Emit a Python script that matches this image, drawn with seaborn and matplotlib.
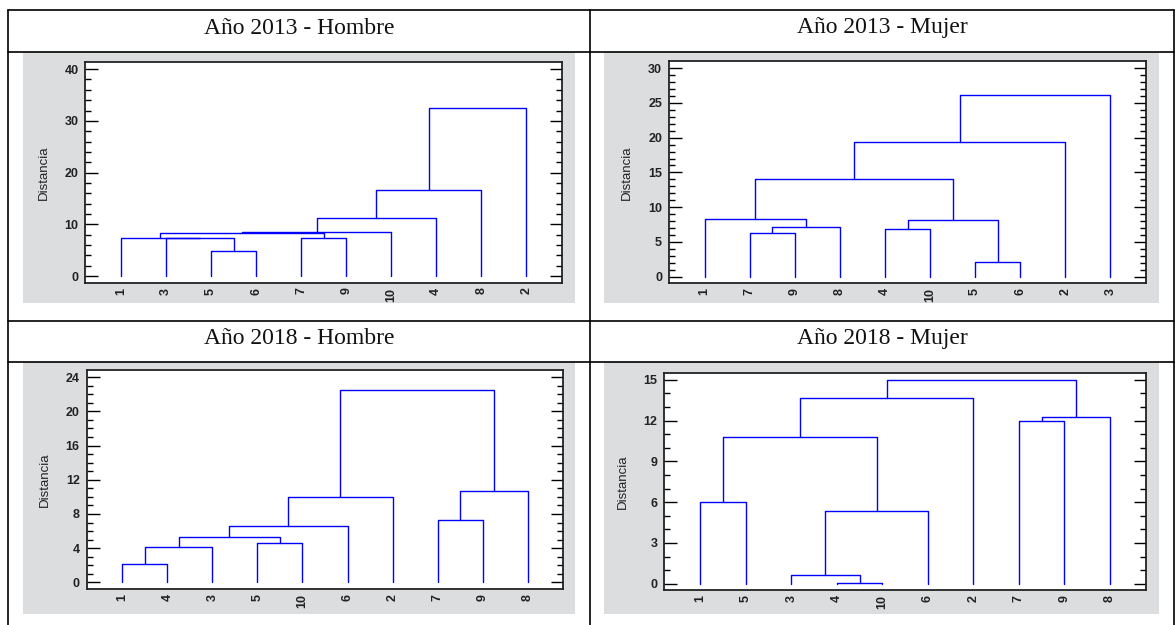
import matplotlib
matplotlib.use('Agg')
import matplotlib.pyplot as plt
from matplotlib.lines import Line2D
from matplotlib.patches import Rectangle
from matplotlib.ticker import MultipleLocator
import seaborn as sns
import pandas as pd

# ---------------- data ----------------
titulos = ["Año 2013 - Hombre", "Año 2013 - Mujer", "Año 2018 - Hombre", "Año 2018 - Mujer"]

# leaf order along the x axis
h13_orden = [1, 3, 5, 6, 7, 9, 10, 4, 8, 2]
m13_orden = [1, 7, 9, 8, 4, 10, 5, 6, 2, 3]
h18_orden = [1, 4, 3, 5, 10, 6, 2, 7, 9, 8]
m18_orden = [1, 5, 3, 4, 10, 6, 2, 7, 9, 8]

# merges: left member, right member (leaf label or 'nK' = K-th merge), distance
h13_izq = [5, 3, 1, 7, 'n2', 'n4', 'n5', 'n6', 'n7']
h13_der = [6, 'n0', 'n1', 9, 'n3', 10, 4, 8, 2]
h13_dist = [4.8, 7.3, 7.3, 7.3, 8.25, 8.6, 11.2, 16.6, 32.5]

m13_izq = [7, 'n0', 1, 5, 4, 'n4', 'n2', 'n6', 'n7']
m13_der = [9, 8, 'n1', 6, 10, 'n3', 'n5', 2, 3]
m13_dist = [6.25, 7.2, 8.3, 2.07, 6.9, 8.17, 14.0, 19.4, 26.15]

h18_izq = [1, 'n0', 5, 'n1', 'n3', 'n4', 7, 'n6', 'n5']
h18_der = [4, 3, 10, 'n2', 6, 2, 9, 8, 'n7']
h18_dist = [2.1, 4.16, 4.6, 5.33, 6.54, 10.0, 7.28, 10.74, 22.53]

m18_izq = [1, 4, 3, 'n2', 'n0', 'n4', 7, 'n6', 'n5']
m18_der = [5, 10, 'n1', 6, 'n3', 2, 9, 8, 'n7']
m18_dist = [6.02, 0.05, 0.64, 5.33, 10.79, 13.64, 11.94, 12.29, 14.98]

# y axis: top major tick, major step, minor step
ejes_y = [(40, 10, 2), (30, 5, 1), (24, 4, 1), (15, 3, 1)]

# ---------------- style ----------------
sns.set_style('white')
plt.rcParams['font.family'] = ['Liberation Sans', 'DejaVu Sans']

W, H = 1175, 625
fig = plt.figure(figsize=(W / 100, H / 100), dpi=100)


def fx(x):
    return x / W


def fy(y):
    return 1 - y / H


def segmentos(orden, izq, der, dist):
    pos = {hoja: i + 1 for i, hoja in enumerate(orden)}
    alt = {hoja: 0.0 for hoja in orden}
    filas = []
    for k, (a, b, h) in enumerate(zip(izq, der, dist)):
        xa, xb = pos[a], pos[b]
        ya, yb = alt[a], alt[b]
        for j, (x, y) in enumerate([(xa, ya), (xa, h), (xb, h), (xb, yb)]):
            filas.append({'x': x, 'y': y, 'seg': k, 'ord': j})
        pos[f'n{k}'] = (xa + xb) / 2
        alt[f'n{k}'] = h
    return pd.DataFrame(filas)


datos = [
    (h13_orden, h13_izq, h13_der, h13_dist),
    (m13_orden, m13_izq, m13_der, m13_dist),
    (h18_orden, h18_izq, h18_der, h18_dist),
    (m18_orden, m18_izq, m18_der, m18_dist),
]

# layout in pixels (left, top, right, bottom)
cajas_ejes = [(85.4, 62.3, 561.9, 282.7), (669, 61.3, 1146, 283.3),
              (86.6, 370.3, 563.4, 589.0), (664.4, 373.0, 1145.8, 590.3)]
cajas_gris = [(22.6, 52, 574.7, 303), (604, 52, 1159, 303),
              (22.6, 362.3, 574.7, 613.7), (604, 362.3, 1159, 613.7)]
titulo_pos = [(299, 33.5), (882, 33.5), (299, 344), (882, 344)]

# table lines
lw_tabla = 1.2
for y in (10, 52, 320.7, 362.3):
    fig.add_artist(Line2D([fx(8), fx(1174)], [fy(y), fy(y)], color='black', lw=lw_tabla))
for x in (8, 590, 1174):
    fig.add_artist(Line2D([fx(x), fx(x)], [fy(10), fy(625)], color='black', lw=lw_tabla))

for i in range(4):
    orden, izq, der, dist = datos[i]
    top, paso, paso_menor = ejes_y[i]
    l, t, r, b = cajas_ejes[i]
    gl, gt, gr, gb = cajas_gris[i]

    fig.add_artist(Rectangle((fx(gl), fy(gb)), fx(gr) - fx(gl), fy(gt) - fy(gb),
                             facecolor='#dcdddf', edgecolor='none', zorder=-1))

    ax = fig.add_axes([fx(l), fy(b), fx(r) - fx(l), fy(t) - fy(b)])
    ax.set_facecolor('white')
    df = segmentos(orden, izq, der, dist)
    sns.lineplot(data=df, x='x', y='y', units='seg', estimator=None, sort=False,
                 color='#0000ff', lw=1.0, ax=ax)

    ax.set_xlim(0.21, 10.79)
    ax.set_ylim(-0.032 * top, 1.033 * top)
    ax.set_xlabel('')
    ax.set_ylabel('')

    yt = list(range(0, top + 1, paso))
    ax.set_yticks(yt, [str(v) for v in yt], fontweight='bold', fontsize=9)
    ax.yaxis.set_minor_locator(MultipleLocator(paso_menor))
    ax.set_xticks(range(1, 11), [str(v) for v in orden], fontweight='bold',
                  fontsize=9, rotation=90)

    ax.tick_params(axis='y', which='both', direction='in', left=True, right=True,
                   width=1.0, color='black', labelcolor='#222222')
    ax.tick_params(axis='y', which='major', length=9, pad=5)
    ax.tick_params(axis='y', which='minor', length=4)
    ax.tick_params(axis='x', which='both', length=0, pad=3.5, labelcolor='#222222')

    for s in ax.spines.values():
        s.set_visible(True)
        s.set_color('#222222')
        s.set_linewidth(1.3)

    fig.text(fx(l - 42), fy((t + b) / 2), 'Distancia', rotation=90, ha='center',
             va='center', fontsize=9.5, color='#222222')

    cx, cy = titulo_pos[i]
    fig.text(fx(cx), fy(cy), titulos[i], ha='center', va='baseline', fontsize=17,
             family=['Liberation Serif', 'DejaVu Serif'], color='#111111')

fig.savefig('out.png', dpi=100)
